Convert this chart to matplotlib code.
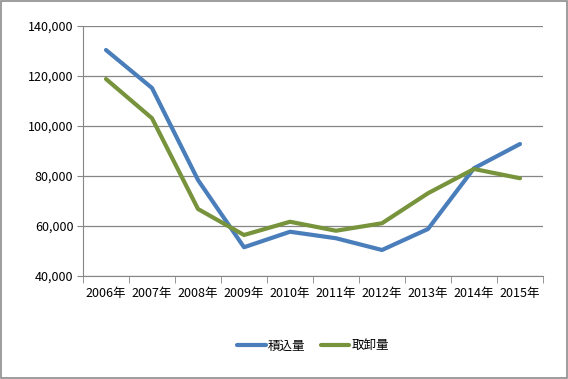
import matplotlib
matplotlib.use('Agg')
import matplotlib.pyplot as plt
from matplotlib.ticker import FuncFormatter, FixedLocator
import numpy as np

plt.rcParams['font.family'] = ['Noto Sans CJK JP', 'DejaVu Sans']

# Data
years = ['2006年', '2007年', '2008年', '2009年', '2010年',
         '2011年', '2012年', '2013年', '2014年', '2015年']
loading = [130400, 115200, 78400, 51500, 57700, 55100, 50400, 58800, 83100, 92800]
unloading = [118800, 103100, 66800, 56400, 61700, 58100, 61100, 73100, 82800, 79100]
series_names = ['積込量', '取卸量']

fig = plt.figure(figsize=(5.68, 3.79), dpi=100)
# outer chart border
fig.patches.append(plt.Rectangle((0.002, 0.003), 0.996, 0.994, transform=fig.transFigure,
                                 fill=False, edgecolor='#8c8c8c', linewidth=1.2))

ax = fig.add_axes([83 / 568, 1 - 276 / 379, 460 / 568, 250 / 379])
x = np.arange(len(years))
ax.plot(x, loading, color='#4a7ebb', linewidth=3, label=series_names[0], solid_capstyle='round')
ax.plot(x, unloading, color='#77933c', linewidth=3, label=series_names[1], solid_capstyle='round')

ax.set_xlim(-0.5, len(years) - 0.5)
ax.set_ylim(40000, 140000)
ax.set_yticks(np.arange(40000, 140001, 20000))
ax.yaxis.set_major_formatter(FuncFormatter(lambda v, p: f'{int(v):,}'))
ax.set_xticks(x)
ax.set_xticklabels(years)
ax.xaxis.set_minor_locator(FixedLocator(np.arange(-0.5, len(years), 1)))
ax.tick_params(axis='x', which='major', length=0, pad=8, labelsize=9)
ax.tick_params(axis='x', which='minor', length=5, color='#868686', direction='out')
ax.tick_params(axis='y', length=4, color='#868686', labelsize=9, pad=3)

ax.grid(axis='y', color='#868686', linewidth=0.9)
ax.set_axisbelow(True)
for side in ['top', 'right']:
    ax.spines[side].set_visible(False)
for side in ['left', 'bottom']:
    ax.spines[side].set_color('#868686')

ax.legend(loc='center', bbox_to_anchor=(0.5, -0.28), ncol=2, frameon=False,
          fontsize=9, handlelength=2.3, columnspacing=1.2, handletextpad=0.2)

plt.savefig('out.png', dpi=100)
